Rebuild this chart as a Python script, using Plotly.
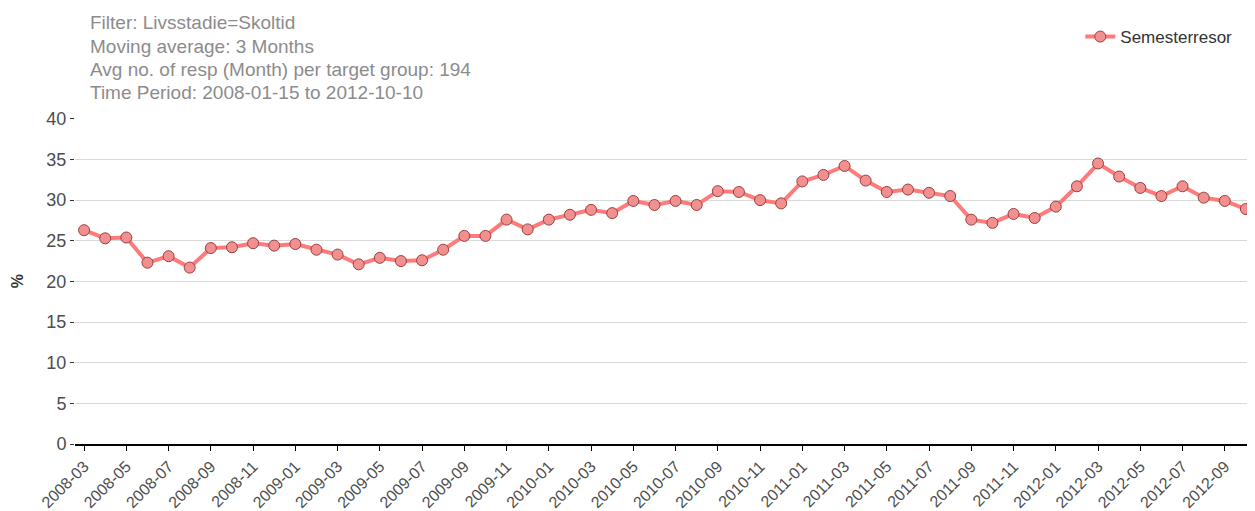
import plotly.graph_objects as go

# monthly values, 3-month moving average, Livsstadie=Skoltid
months = [
    "2008-03", "2008-04", "2008-05", "2008-06", "2008-07", "2008-08", "2008-09", "2008-10", "2008-11", "2008-12",
    "2009-01", "2009-02", "2009-03", "2009-04", "2009-05", "2009-06", "2009-07", "2009-08", "2009-09", "2009-10",
    "2009-11", "2009-12", "2010-01", "2010-02", "2010-03", "2010-04", "2010-05", "2010-06", "2010-07", "2010-08",
    "2010-09", "2010-10", "2010-11", "2010-12", "2011-01", "2011-02", "2011-03", "2011-04", "2011-05", "2011-06",
    "2011-07", "2011-08", "2011-09", "2011-10", "2011-11", "2011-12", "2012-01", "2012-02", "2012-03", "2012-04",
    "2012-05", "2012-06", "2012-07", "2012-08", "2012-09", "2012-10",
]
semesterresor = [
    26.3, 25.3, 25.4, 22.3, 23.1, 21.7, 24.1, 24.2, 24.7, 24.4,
    24.6, 23.9, 23.3, 22.1, 22.9, 22.5, 22.6, 23.9, 25.6, 25.6,
    27.6, 26.4, 27.6, 28.2, 28.8, 28.4, 29.9, 29.4, 29.9, 29.4,
    31.1, 31.0, 30.0, 29.6, 32.3, 33.1, 34.2, 32.4, 31.0, 31.3,
    30.9, 30.5, 27.6, 27.2, 28.3, 27.8, 29.2, 31.7, 34.5, 32.9,
    31.5, 30.5, 31.7, 30.3, 29.9, 28.9,
]
tick_months = months[::2]
info_lines = [
    "Filter: Livsstadie=Skoltid",
    "Moving average: 3 Months",
    "Avg no. of resp (Month) per target group: 194",
    "Time Period: 2008-01-15 to 2012-10-10",
]

fig = go.Figure(
    go.Scatter(
        x=months,
        y=semesterresor,
        name="Semesterresor",
        mode="lines+markers",
        line=dict(color="#ff7b7b", width=4),
        marker=dict(size=11, color="#f28f8f", line=dict(color="#9a4040", width=1)),
    )
)

# header text, one annotation per line
for i, txt in enumerate(info_lines):
    fig.add_annotation(
        text=txt, xref="paper", yref="paper",
        x=0.011, y=(444 - 23 - i * 23.3) / 326, xanchor="left", yanchor="middle",
        showarrow=False, font=dict(size=19, color="#8c8c8c"),
    )

# page body adds an 8px margin, so the figure is 8px smaller
fig.update_layout(
    width=1247, height=503,
    margin=dict(l=67, r=0, t=110, b=67),
    paper_bgcolor="white", plot_bgcolor="white",
    font=dict(family="Liberation Sans, Arial, sans-serif", color="#4d4d4d"),
    showlegend=True,
    legend=dict(x=0.985, y=(444 - 37) / 326, xanchor="right", yanchor="middle",
                font=dict(size=17, color="#333333"), bgcolor="rgba(0,0,0,0)"),
    xaxis=dict(
        type="category", range=[-0.43, len(months) - 0.57], automargin=False,
        tickvals=tick_months, ticktext=tick_months, tickangle=-45,
        showgrid=False, showline=True, linecolor="black", linewidth=1.5,
        ticks="outside", ticklen=5, tickcolor="black",
        tickfont=dict(size=16, color="#4d4d4d"),
    ),
    yaxis=dict(
        range=[0, 40.1], tickvals=[0, 5, 10, 15, 20, 25, 30, 35, 40], automargin=False,
        showgrid=True, gridcolor="#d9d9d9", gridwidth=1.2, zeroline=False,
        ticks="outside", ticklen=4, tickcolor="#333333",
        tickfont=dict(size=18, color="#4d4d4d"),
        title=dict(text="<b>%</b>", font=dict(size=16, color="#333333"), standoff=18),
    ),
)

fig.write_html("out.html")
